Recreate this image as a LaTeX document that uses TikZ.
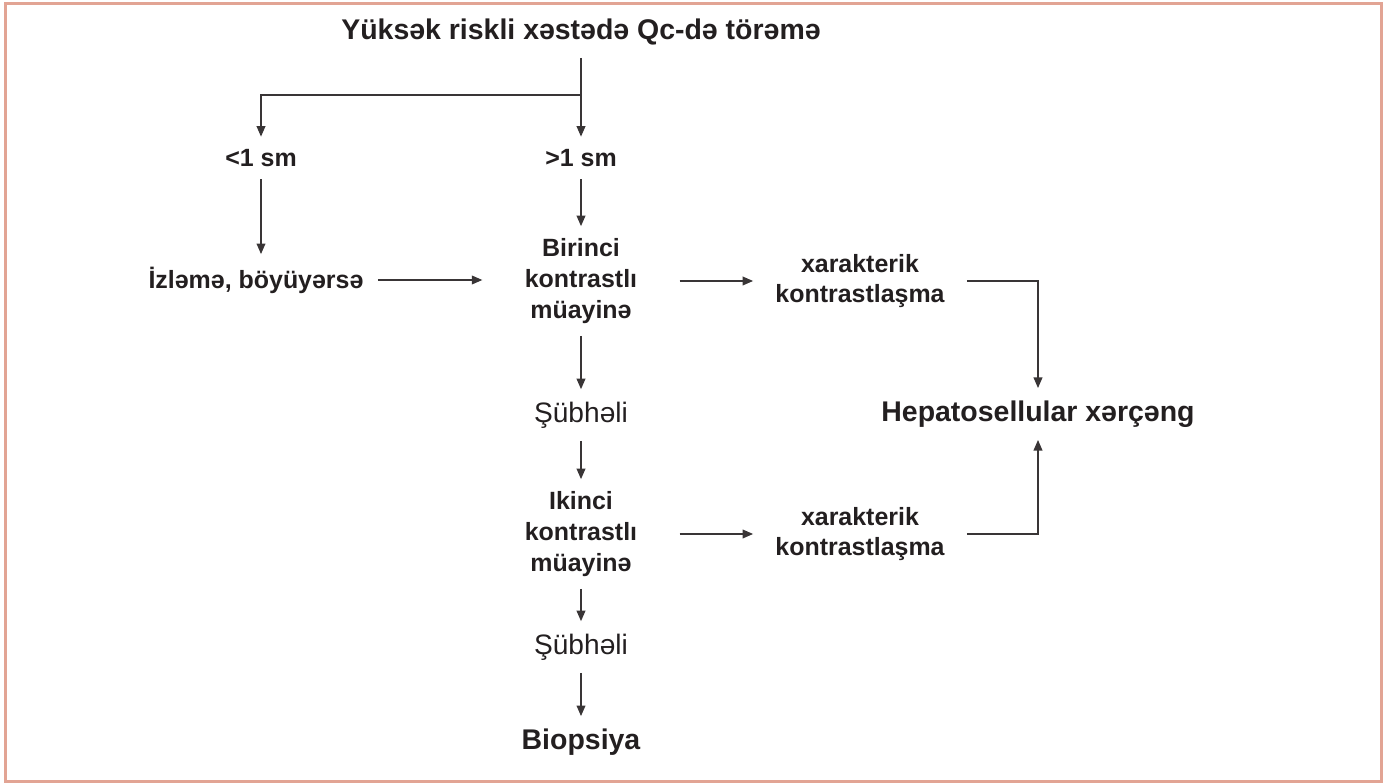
\documentclass[tikz,border=0pt]{standalone}
\usepackage{fontspec}
\setmainfont{Liberation Sans}
\usepackage{tikz}
\usepackage{xcolor}
\usetikzlibrary{arrows.meta}

\definecolor{framecol}{HTML}{E2A494}
\definecolor{inkcol}{HTML}{231F20}

\tikzset{
  big/.style={font=\fontsize{16.2}{19}\selectfont\bfseries, text=inkcol, inner xsep=8pt, inner ysep=7pt},
  small/.style={font=\fontsize{14.2}{17.4}\selectfont\bfseries, text=inkcol, align=center, inner xsep=8pt, inner ysep=7pt},
  plain/.style={font=\fontsize{16}{19}\selectfont, text=inkcol, inner ysep=7pt},
  stack/.style={small, inner xsep=24pt},
  trait/.style={small, inner xsep=12.5pt},
  arr/.style={-{Triangle[length=6pt,width=5pt]}, draw=inkcol!90, line width=0.75pt},
  frame/.style={draw=framecol, line width=1.7pt}
}

\begin{document}
\begin{tikzpicture}[x=0.02cm, y=-0.02cm]
  \useasboundingbox (0,0) rectangle (1384,783);
  \draw[frame] (5.5,4) rectangle (1381.5,781.5);

  % nodes
  \node[big] (title) at (581,32) {Yüksək riskli xəstədə Qc-də törəmə};
  \node[small] (lt1) at (261,158) {<1 sm};
  \node[small] (gt1) at (581,158) {>1 sm};
  \node[small] (izle) at (256,280) {İzləmə, böyüyərsə};
  \node[stack] (first) at (581,281) {Birinci\\kontrastlı\\müayinə};
  \node[trait] (char1) at (860,281) {xarakterik\\kontrastlaşma};
  \node[big] (hcc) at (1038,414) {Hepatosellular xərçəng};
  \node[plain] (susp1) at (581,415) {Şübhəli};
  \node[stack] (second) at (581,534) {Ikinci\\kontrastlı\\müayinə};
  \node[trait] (char2) at (860,534) {xarakterik\\kontrastlaşma};
  \node[plain] (susp2) at (581,647) {Şübhəli};
  \node[big] (biopsy) at (581,742) {Biopsiya};
  \coordinate (split) at (581,95);

  % connectors
  \draw[arr] (title) -- (gt1);
  \draw[arr] (split) -| (lt1);
  \draw[arr] (lt1) -- (lt1 |- izle.north);
  \draw[arr] (gt1) -- (first);
  \draw[arr] (izle) -- (izle -| first.west);
  \draw[arr] (first) -- (char1);
  \draw[arr] (char1.east) -| (hcc);
  \draw[arr] (first) -- (susp1);
  \draw[arr] (susp1) -- (second);
  \draw[arr] (second) -- (char2);
  \draw[arr] (char2.east) -| (hcc);
  \draw[arr] (second) -- (susp2);
  \draw[arr] (susp2) -- (biopsy);
\end{tikzpicture}
\end{document}
